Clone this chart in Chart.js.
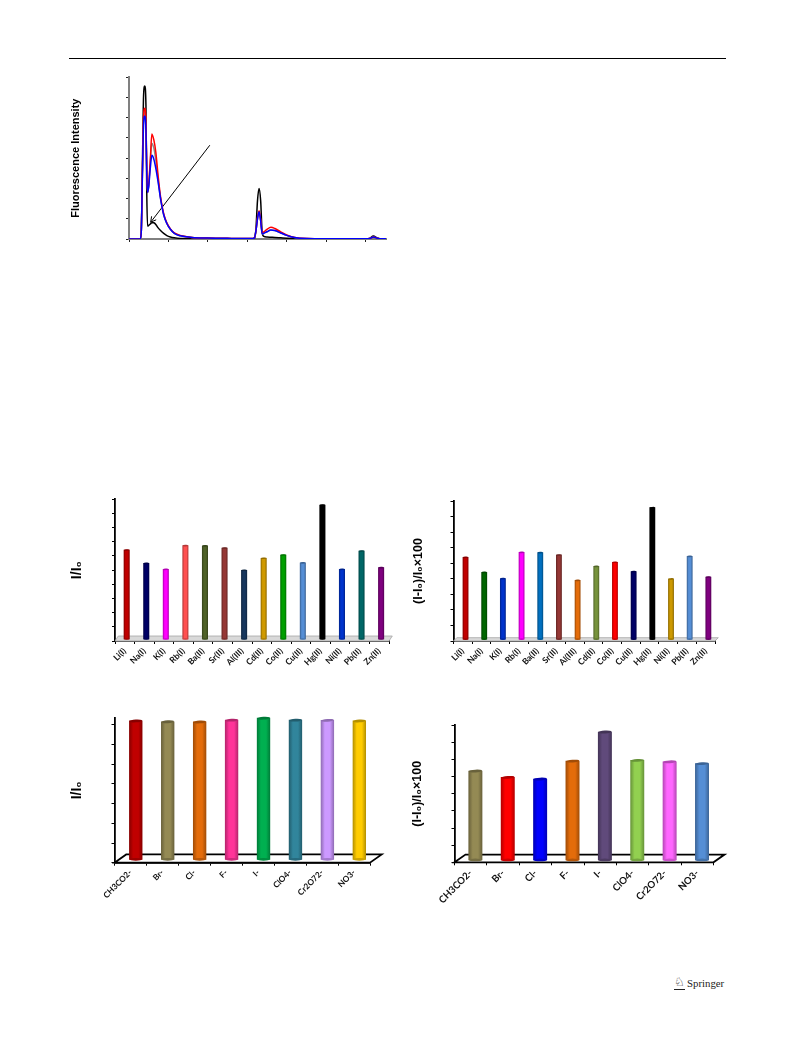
<!DOCTYPE html>
<html><head><meta charset="utf-8">
<script src="https://cdn.jsdelivr.net/npm/chart.js@4"></script>
<style>
html,body{margin:0;padding:0;background:#fff;width:793px;height:1053px;overflow:hidden}
canvas{position:absolute;filter:blur(.35px)}
#rule{position:absolute;left:69px;top:58px;width:657px;height:1.2px;background:#000}
#pub{position:absolute;left:687px;top:977px;font:10.8px "Liberation Serif",serif;color:#222}
#knight{position:absolute;left:674px;top:975px;font:12px "DejaVu Sans",sans-serif;color:#222;border-bottom:1px solid #222;line-height:14px}
</style></head><body>
<div id="rule"></div><div id="knight">♘</div><div id="pub">Springer</div>
<canvas id="c1"></canvas><canvas id="c2"></canvas><canvas id="c3"></canvas><canvas id="c4"></canvas><canvas id="c5"></canvas>
<script>
// ---- Spectra (top chart): axis units, no printed tick labels ----
const waveX =[0,.28,.31,.34,.37,.40,.43,.45,.47,.50,.54,.58,.63,.68,.74,.80,.88,.96,1.05,1.15,1.3,1.6,2.0,2.6,3.1,3.18,3.22,3.26,3.30,3.34,3.38,3.42,3.5,3.6,3.7,3.85,4.0,4.2,4.5,5.0,6.0,6.1,6.2,6.3,6.4,6.52];
const blackY=[0,0,.3,3.6,7.1,7.57,6.6,2.4,.64,.67,.74,.81,.8,.72,.55,.42,.28,.17,.1,.06,.03,.02,.01,.01,0,0,.5,1.9,2.5,1.9,.3,.13,.1,.09,.08,.06,.04,.02,0,0,0,.03,.15,.05,0,0];
const grayY =[0,0,.3,3.2,5.9,6.3,5.6,3.4,2.3,2.6,3.8,4.73,4.5,3.9,2.9,2.0,1.2,.77,.48,.28,.16,.08,.05,.03,.02,.05,.4,1.0,1.35,.9,.25,.28,.36,.45,.42,.3,.18,.07,.02,.01,.01,.02,.1,.04,.01,.01];
const redY  =[0,0,.3,3.3,6.1,6.47,5.8,3.6,2.3,2.7,3.9,5.2,4.9,4.3,3.1,2.1,1.25,.8,.5,.3,.18,.08,.05,.03,.02,.05,.4,1.05,1.4,.95,.3,.35,.48,.58,.52,.35,.2,.08,.02,.01,.01,.02,.1,.04,.01,.01];
const blueY =[0,0,.3,3.1,5.7,6.09,5.4,3.3,2.3,2.6,3.5,4.14,3.95,3.5,2.8,2.0,1.2,.77,.48,.28,.16,.08,.05,.03,.02,.05,.4,1.0,1.35,.9,.25,.28,.36,.45,.42,.3,.18,.07,.02,.01,.01,.02,.1,.04,.01,.01];
const arrowX=[2.05,.55];
const arrowY=[4.64,.83];
// ---- Cations ----
const cationsA=["Li(I)","Na(I)","K(I)","Rb(I)","Ba(II)","Sr(II)","Al(III)","Cd(II)","Co(II)","Cu(II)","Hg(II)","Ni(II)","Pb(II)","Zn(II)"];
const ratioA  =[6.42,5.48,5.06,6.73,6.71,6.56,4.99,5.84,6.07,5.51,9.6,5.06,6.35,5.18];
const coloursA=["#C00000","#000066","#FF00FF","#FF5050","#4F6228","#953735","#17375E","#D09A00","#00A000","#558ED5","#000000","#0033CC","#006666","#7F007F"];
const percentA=[5.38,4.41,4.01,5.70,5.68,5.53,3.90,4.80,5.06,4.46,8.57,3.99,5.44,4.11];
const coloursB=["#C00000","#006600","#0033CC","#FF00FF","#0070C0","#953735","#E46C0A","#77933C","#FF0000","#000066","#000000","#CC9900","#558ED5","#7F007F"];
// ---- Anions ----
const anions=["CH3CO2-","Br-","Cl-","F-","I-","ClO4-","Cr2O72-","NO3-"];
const ratioC=[7.2,7.16,7.15,7.24,7.34,7.24,7.23,7.2];
const coloursC=["#C00000","#948A54","#E46C0A","#FF3399","#00B050","#31859C","#CC99FF","#FFCC00"];
const percentC=[5.33,4.96,4.86,5.91,7.61,5.95,5.87,5.76];
const coloursD=["#948A54","#FF0000","#0000FF","#E46C0A","#604A7B","#92D050","#FF66FF","#558ED5"];

const SUB="I/I\u2080", PCT="(I-I\u2080)/I\u2080\u00D7100";

function shade(hex,k){
  const n=parseInt(hex.slice(1),16);
  const f=v=>Math.round(k<1? v*k : v+(255-v)*(k-1));
  return `rgb(${f(n>>16&255)},${f(n>>8&255)},${f(n&255)})`;
}
function place(id,g){
  const c=document.getElementById(id);
  c.width=g.w;c.height=g.h;
  c.style.left=g.x+'px';c.style.top=g.y+'px';c.style.width=g.w+'px';c.style.height=g.h+'px';
  return c.getContext('2d');
}
const yFit=g=>s=>{s.width=g.l-g.x};
const xFit=g=>s=>{s.height=g.y+g.h-g.b};
const pad=g=>({left:0,top:g.t-g.y,right:g.x+g.w-g.r,bottom:0});
const blankTick=()=>'';

function barChart(id,g,labels,values,colours,yMax,title,tickFont){
  const floor={
    id:'floor'+id,
    beforeDatasetsDraw(ch){
      const {ctx,chartArea:a}=ch;
      ctx.save();
      ctx.beginPath();
      ctx.moveTo(a.left,a.bottom);ctx.lineTo(a.left+g.dx,a.bottom-g.dy);
      ctx.lineTo(a.right+g.dx,a.bottom-g.dy);ctx.lineTo(a.right,a.bottom);ctx.closePath();
      ctx.fillStyle=g.floorFill;ctx.fill();
      ctx.lineWidth=g.floorW;ctx.strokeStyle=g.floorLine;ctx.stroke();
      ctx.restore();
      ctx.save();ctx.translate(g.shift,0);
    },
    afterDatasetsDraw(ch){
      const {ctx}=ch;
      ch.getDatasetMeta(0).data.forEach((b,i)=>{
        const w=b.width/2;
        ctx.fillStyle=shade(colours[i],.8);
        ctx.beginPath();ctx.ellipse(b.x,b.base,w,g.ry,0,0,Math.PI*2);ctx.fill();
        ctx.fillStyle=shade(colours[i],.7);
        ctx.beginPath();ctx.ellipse(b.x,b.y,w,g.ry,-.06,0,Math.PI*2);ctx.fill();
      });
      ctx.restore();
    }
  };
  return new Chart(place(id,g),{
    type:'bar',
    data:{labels,datasets:[{data:values,base:g.base,barThickness:g.bw,clip:false,
      backgroundColor(c){
        const ch=c.chart;
        if(!ch.chartArea||c.dataIndex===undefined) return colours[c.dataIndex]||'#000';
        const x=ch.scales.x.getPixelForValue(c.dataIndex),h=g.bw/2;
        const gr=ch.ctx.createLinearGradient(x-h,0,x+h,0),col=colours[c.dataIndex];
        gr.addColorStop(0,shade(col,.72));gr.addColorStop(.3,col);
        gr.addColorStop(.7,col);gr.addColorStop(1,shade(col,.72));
        return gr;
      }}]},
    plugins:[floor],
    options:{responsive:false,animation:false,layout:{padding:pad(g),autoPadding:false},
      plugins:{legend:{display:false},tooltip:{enabled:false}},
      scales:{
        x:{offset:true,afterFit:xFit(g),
          grid:{drawOnChartArea:false,tickLength:3,tickColor:'#000',offset:true},
          border:{color:'#000',width:g.axisW},
          ticks:{autoSkip:false,minRotation:45,maxRotation:45,padding:2,color:'#111',font:{family:'Lato',weight:'bold',size:tickFont}}},
        y:{min:0,max:yMax,afterFit:yFit(g),
          grid:{drawOnChartArea:false,tickLength:3,tickColor:'#000'},
          border:{color:'#000',width:g.axisW},
          title:{display:true,text:title,padding:0,color:'#000',font:{family:'Liberation Sans',weight:'bold',size:g.ts}},
          ticks:{stepSize:1,includeBounds:false,autoSkip:false,callback:blankTick,padding:0}}
      }}
  });
}

// Spectra chart
const g1={x:69,y:60,w:329,h:190,l:129,r:386,t:77.3,b:239};
const arrowHead={
  id:'arrowHead',
  afterDatasetsDraw(ch){
    const pts=ch.getDatasetMeta(4).data,{ctx}=ch;
    const p=pts[1],q=pts[0],a=Math.atan2(q.y-p.y,q.x-p.x),L=6;
    ctx.save();ctx.strokeStyle='#000';ctx.lineWidth=1;ctx.beginPath();
    ctx.moveTo(p.x+L*Math.cos(a+.5),p.y+L*Math.sin(a+.5));ctx.lineTo(p.x,p.y);
    ctx.lineTo(p.x+L*Math.cos(a-.5),p.y+L*Math.sin(a-.5));ctx.stroke();ctx.restore();
  }
};
const series=(ys,color,w)=>({data:waveX.map((x,i)=>({x,y:ys[i]})),borderColor:color,borderWidth:w,pointRadius:0,cubicInterpolationMode:'monotone',fill:false});
new Chart(place('c1',g1),{
  type:'line',
  data:{datasets:[
    series(blueY,'#0000FF',1.5),
    series(redY,'#FF0000',1.5),
    series(grayY,'#8a8a8a',1.5),
    series(blackY,'#000000',1.5),
    {data:arrowX.map((x,i)=>({x,y:arrowY[i]})),borderColor:'#000',borderWidth:1,pointRadius:0,fill:false}
  ]},
  plugins:[arrowHead],
  options:{responsive:false,animation:false,layout:{padding:pad(g1),autoPadding:false},
    plugins:{legend:{display:false},tooltip:{enabled:false}},
    scales:{
      x:{type:'linear',min:0,max:6.52,afterFit:xFit(g1),
        grid:{drawOnChartArea:false,tickLength:3,tickColor:'#222'},
        border:{color:'#808080',width:2},
        ticks:{stepSize:1,includeBounds:false,autoSkip:false,callback:blankTick,padding:0,maxRotation:0}},
      y:{min:0,max:8,afterFit:yFit(g1),
        grid:{drawOnChartArea:false,tickLength:3,tickColor:'#222'},
        border:{color:'#808080',width:2},
        title:{display:true,text:'Fluorescence Intensity',padding:0,color:'#000',font:{family:'Liberation Sans',weight:'bold',size:11}},
        ticks:{stepSize:1,autoSkip:false,callback:blankTick,padding:0}}
    }}
});

const flat={ry:.8,floorFill:'#d9d9d9',floorLine:'#a6a6a6',floorW:.8,axisW:1.8,ts:12.5};
const cyl ={ry:1.4,floorFill:'#ffffff',floorLine:'#000',floorW:1.8,axisW:1.8,ts:12.5};
barChart('c2',{...flat,ts:14,x:69,y:490,w:329,h:190,l:115,r:389,t:499.3,b:641,dx:3.3,dy:5,shift:1.9,bw:5.4,base:.14},cationsA,ratioA,coloursA,10,SUB,8.5);
barChart('c3',{...flat,x:411,y:490,w:319,h:190,l:453.5,r:715,t:501,b:641,dx:3.3,dy:3.3,shift:2.7,bw:5.2,base:.12},cationsA,percentA,coloursB,9,PCT,8.5);
barChart('c4',{...cyl,ts:14,x:69,y:705,w:329,h:205,l:114.5,r:370,t:718,b:862.7,dx:11.7,dy:8.3,shift:5.3,bw:12.7,base:.17},anions,ratioC,coloursC,7.35,SUB,8.2);
barChart('c5',{...cyl,x:410,y:715,w:329,h:205,l:454.5,r:713.5,t:725.3,b:862.3,dx:11,dy:7.7,shift:4.7,bw:13.3,base:.14},anions,percentC,coloursD,8,PCT,9.7);
</script>
</body></html>
